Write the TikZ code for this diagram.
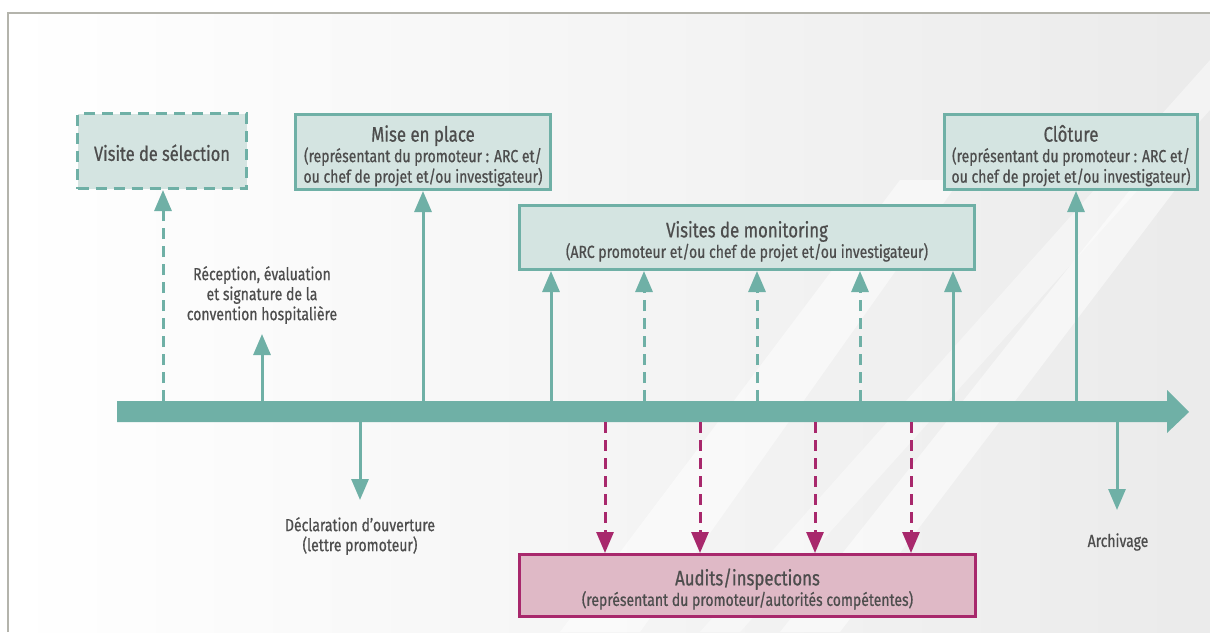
\documentclass[tikz,border=0pt]{standalone}
\usepackage{fontspec}
\setmainfont{Fira Sans}[FakeStretch=0.8, FakeBold=0.7]
\usetikzlibrary{arrows.meta}
\definecolor{tealc}{HTML}{6FB0A6}
\definecolor{boxfill}{HTML}{D4E4E1}
\definecolor{magc}{HTML}{A8286C}
\definecolor{pinkfill}{HTML}{DFB9C6}
\definecolor{txt}{HTML}{4D4D4D}
\definecolor{framec}{HTML}{B4B4AC}
\newcommand{\tstrut}{\rule{0pt}{24pt}}
\begin{document}
\begin{tikzpicture}[x=1pt,y=-1pt,
  box/.style={draw=tealc, line width=3pt, fill=boxfill, text=txt, align=center, inner sep=0pt,
    font=\fontsize{17.5}{20.5}\selectfont},
  abox/.style={box, draw=magc, fill=pinkfill},
  lbl/.style={text=txt, align=center, inner sep=0pt, font=\fontsize{17.5}{20}\selectfont},
  upar/.style={draw=tealc, line width=3pt, -{Triangle[width=17pt,length=21pt]}},
  mgar/.style={draw=magc, line width=3pt, -{Triangle[width=17pt,length=21pt]}, dash pattern=on 11pt off 7pt},
  dsh/.style={dash pattern=on 11pt off 7pt}]
\useasboundingbox (0,0) rectangle (1210,632);
\fill[white] (0,0) rectangle (1210,632);
% background
\shade[left color=white, right color=black!8] (8,13) rectangle (1210,632);
\fill[white, opacity=0.5] (560,632) -- (900,180) -- (960,180) -- (640,632) -- cycle;
\fill[white, opacity=0.5] (780,632) -- (1130,190) -- (1175,190) -- (840,632) -- cycle;
\fill[white, opacity=0.4] (700,632) -- (1210,60) -- (1210,110) -- (740,632) -- cycle;
\draw[framec, line width=1.2pt] (8,632) -- (8,13) -- (1210,13);

% timeline
\fill[tealc] (117,401) -- (1167,401) -- (1167,390) -- (1189,412) -- (1167,433) -- (1167,422) -- (117,422) -- cycle;

% boxes
\node[box, dsh, minimum width=169pt, minimum height=75pt, font=\fontsize{20.5}{24}\selectfont] (sel) at (162,151) {\rule{0pt}{20pt}Visite de sélection};
\node[box, minimum width=255pt, minimum height=75pt] (mise) at (423,152)
  {{\fontsize{21}{21}\selectfont\tstrut Mise en place}\\(représentant du promoteur : ARC et/\\ou chef de projet et/ou investigateur)};
\node[box, minimum width=253pt, minimum height=75pt] (clot) at (1071,152)
  {{\fontsize{21}{21}\selectfont\tstrut Clôture}\\(représentant du promoteur : ARC et/\\ou chef de projet et/ou investigateur)};
\node[box, minimum width=455pt, minimum height=64pt] (mon) at (747,237.5)
  {{\fontsize{21}{21}\selectfont\tstrut Visites de monitoring}\\(ARC promoteur et/ou chef de projet et/ou investigateur)};
\node[abox, minimum width=456pt, minimum height=62pt] (aud) at (747.5,585.5)
  {{\fontsize{21}{21}\selectfont\tstrut Audits/inspections}\\(représentant du promoteur/autorités compétentes)};

% labels
\node[lbl] (rec) at (262,295) {Réception, évaluation\\et signature de la\\convention hospitalière};
\node[lbl] (decl) at (360,536) {Déclaration d'ouverture\\(lettre promoteur)};
\node[lbl] (arch) at (1118,542) {Archivage};

% anchor points on timeline
\foreach \x in {163,262,423,551,644,757,860,953,1076} \coordinate (u\x) at (\x,401);
\foreach \x in {360,605,700,815,911,1117} \coordinate (d\x) at (\x,422);
\coordinate (rectip) at (262,334);
\coordinate (decltip) at (360,500);
\coordinate (archtip) at (1117,510);

% up arrows
\draw[upar, dsh] (u163) -- (u163 |- sel.south);
\draw[upar] (u262) -- (rectip);
\draw[upar] (u423) -- (u423 |- mise.south);
\draw[upar] (u551) -- (u551 |- mon.south);
\draw[upar, dsh] (u644) -- (u644 |- mon.south);
\draw[upar, dsh] (u757) -- (u757 |- mon.south);
\draw[upar, dsh] (u860) -- (u860 |- mon.south);
\draw[upar] (u953) -- (u953 |- mon.south);
\draw[upar] (u1076) -- (u1076 |- clot.south);

% down arrows
\draw[upar] (d360) -- (decltip);
\draw[upar] (d1117) -- (archtip);
\draw[mgar] (d605) -- (d605 |- aud.north);
\draw[mgar] (d700) -- (d700 |- aud.north);
\draw[mgar] (d815) -- (d815 |- aud.north);
\draw[mgar] (d911) -- (d911 |- aud.north);
\end{tikzpicture}
\end{document}
